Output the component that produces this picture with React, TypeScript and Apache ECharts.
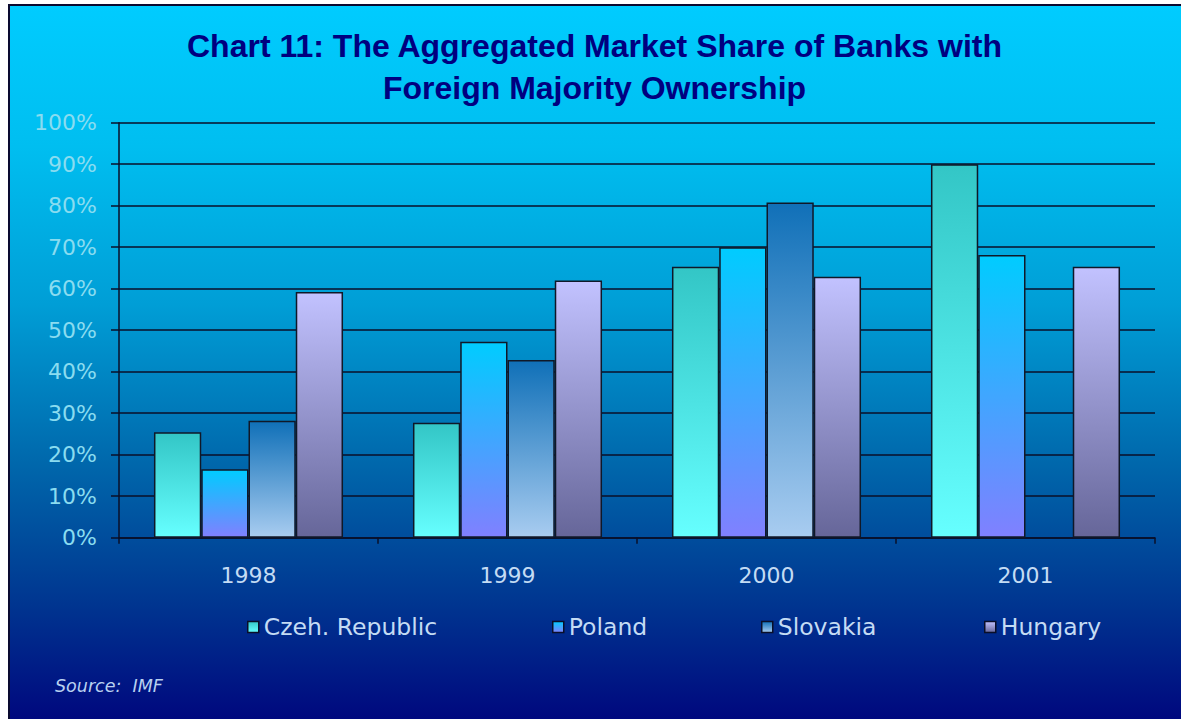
import React, { useEffect, useRef } from "react";
import * as echarts from "echarts";

const titleLines = ["Chart 11: The Aggregated Market Share of Banks with", "Foreign Majority Ownership"];
const years = ["1998", "1999", "2000", "2001"];
const czech = [25.4, 27.7, 65.3, 90];
const poland = [16.5, 47.2, 70, 68.1];
const slovakia = [28.2, 42.8, 80.8, null];
const hungary = [59.2, 62, 62.9, 65.3];
const seriesNames = ["Czeh. Republic", "Poland", "Slovakia", "Hungary"];
const yTicks = [0, 10, 20, 30, 40, 50, 60, 70, 80, 90, 100];
const sourceText = "Source:  IMF";

const grad = (top: string, bottom: string) =>
  new echarts.graphic.LinearGradient(0, 0, 0, 1, [
    { offset: 0, color: top },
    { offset: 1, color: bottom },
  ]);

export default function App() {
  const ref = useRef<HTMLDivElement>(null);
  useEffect(() => {
    if (!ref.current) return;
    const chart = echarts.init(ref.current, undefined, { renderer: "svg" });
    const fills = [
      grad("#33C6C6", "#66FFFF"),
      grad("#00CCFF", "#8080FF"),
      grad("#1070B8", "#A8CCF0"),
      grad("#C2C2FF", "#666699"),
    ];
    const data = [czech, poland, slovakia, hungary];
    const legendText = [263, 568, 777, 1000];
    const iconW = 11;
    const labelFont = "DejaVu Sans";
    chart.setOption({
      animation: false,
      backgroundColor: new echarts.graphic.LinearGradient(0, 0, 0, 1, [
        { offset: 0, color: "#00CCFF" },
        { offset: 0.2, color: "#00BEF0" },
        { offset: 0.42, color: "#009ED6" },
        { offset: 0.64, color: "#0068AC" },
        { offset: 0.75, color: "#004C9C" },
        { offset: 0.84, color: "#003590" },
        { offset: 1, color: "#00087E" },
      ]),
      title: {
        text: titleLines.join("\n"),
        left: "center",
        top: 16,
        textStyle: {
          fontFamily: "Liberation Sans",
          fontWeight: "bold",
          fontSize: 32,
          lineHeight: 42,
          color: "#000080",
        },
      },
      grid: { left: 111, right: 26, top: 118.7, bottom: 181.3, containLabel: false },
      xAxis: {
        type: "category",
        data: years,
        axisLine: { lineStyle: { color: "#0A0F28", width: 1.5 } },
        axisTick: { show: true, alignWithLabel: false, length: 6, lineStyle: { color: "#0A0F28", width: 1.5 } },
        axisLabel: { margin: 27, fontFamily: labelFont, fontSize: 22, color: "#C4DCF4" },
        splitLine: { show: false },
      },
      yAxis: {
        type: "value",
        min: 0,
        max: 100,
        interval: 10,
        axisLine: { show: true, lineStyle: { color: "#0A0F28", width: 1.5 } },
        axisTick: { show: true, length: 8, lineStyle: { color: "#0A0F28", width: 1.5 } },
        axisLabel: {
          margin: 22,
          fontFamily: labelFont,
          fontSize: 22,
          color: "#8ADCF0",
          formatter: (v: number) => (yTicks.includes(v) ? v + "%" : ""),
        },
        splitLine: { show: true, lineStyle: { color: "#0A0F28", width: 1.5 } },
      },
      legend: seriesNames.map((n, i) => ({
        data: [n],
        left: legendText[i] - 8 - iconW - 5,
        top: 611,
        padding: 0,
        itemWidth: iconW,
        itemHeight: 11,
        icon: "rect",
        itemStyle: { borderColor: "#0A0F28", borderWidth: 1.5 },
        textStyle: { fontFamily: labelFont, fontSize: 23.5, color: "#C4DCF4" },
        selectedMode: false,
      })),
      graphic: [
        {
          type: "text",
          left: 47,
          top: 673,
          style: {
            text: sourceText,
            fontFamily: "DejaVu Sans",
            fontStyle: "italic",
            fontSize: 17.5,
            fill: "#B8D0F0",
          },
        },
        {
          type: "polyline",
          shape: { points: [[1, 719], [1, 1], [1181, 1]] },
          style: { stroke: "#0A0A30", lineWidth: 2, fill: "none" },
        },
      ],
      series: seriesNames.map((n, i) => ({
        name: n,
        type: "bar",
        data: data[i],
        barGap: "0%",
        barCategoryGap: "27%",
        itemStyle: { color: fills[i], borderColor: "#101828", borderWidth: 1.5 },
      })),
    });
    return () => chart.dispose();
  }, []);
  return (
    <div
      ref={ref}
      style={{ position: "absolute", left: 8, top: 4, width: 1173, height: 715 }}
    />
  );
}
